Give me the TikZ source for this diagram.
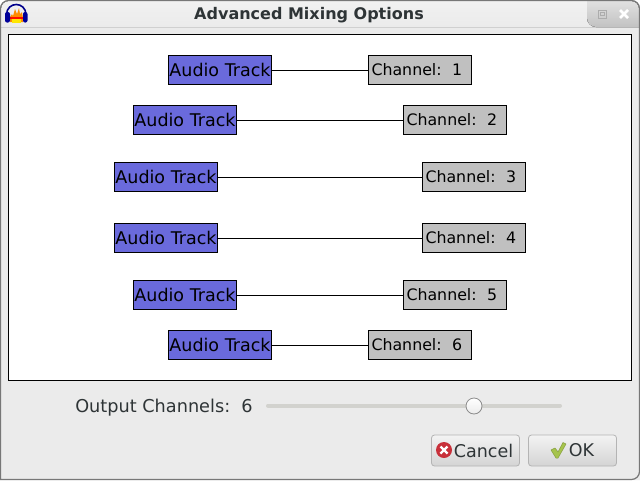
\documentclass[tikz,border=0pt]{standalone}
\usepackage{fontspec}
\setmainfont{DejaVu Sans}
\definecolor{TrackBlue}{HTML}{6A6ADC}
\definecolor{ChanGray}{HTML}{C0C0C0}
\definecolor{WinGray}{HTML}{EBEBEB}
\definecolor{EdgeGray}{HTML}{777777}
\definecolor{InkGray}{HTML}{2E3436}
\definecolor{BtnEdge}{HTML}{B4B4B4}
\definecolor{SlideGray}{HTML}{D2D2CE}
\definecolor{CancelRed}{HTML}{C8303A}
\definecolor{OkGreen}{HTML}{A6C44C}
\begin{document}
\begin{tikzpicture} [x = 1pt, y = -1pt,
	track/.style = {draw,
		fill = TrackBlue,
		line width = 1pt,
		minimum width = 103pt,
		minimum height = 29pt,
		inner sep = 0pt,
		font = \fontsize{17.5}{20}\selectfont},
	chan/.style = {draw,
		fill = ChanGray,
		line width = 1pt,
		text width = 97pt,
		minimum height = 29pt,
		inner xsep = 3pt,
		inner ysep = 0pt,
		align = left,
		font = \fontsize{15.8}{20}\selectfont},
	wire/.style = {line width = 1pt},
	button/.style = {draw = BtnEdge,
		rounded corners = 3pt,
		top color = WinGray!60!white,
		bottom color = WinGray!90!black,
		line width = 0.8pt,
		minimum height = 31pt,
		inner sep = 0pt,
		text = InkGray,
		font = \fontsize{17.5}{20}\selectfont},
	caption/.style = {text = InkGray,
		inner sep = 0pt,
		font = \fontsize{17.7}{20}\selectfont}]

	\useasboundingbox (0,0) rectangle (640,480);

	% window frame and title bar
	\fill [WinGray, rounded corners = 8pt] (0,480) -- (0,0) -- (640,0) -- (640,480);
	\fill [WinGray, rounded corners = 0pt] (0,20) rectangle (640,480);
	\fill [top color = WinGray!70!white, bottom color = WinGray, rounded corners = 8pt] (1,27) -- (1,1) -- (639,1) -- (639,27);
	\fill [top color = black!12, bottom color = black!24] (587,1) [rounded corners = 9pt] -- (587,27) [sharp corners] -- (639,27) [rounded corners = 8pt] -- (639,1) [sharp corners] -- cycle;
	\draw [EdgeGray, line width = 1.2pt, rounded corners = 8pt] (0.5,479.5) -- (0.5,0.5) -- (639.5,0.5) -- (639.5,479.5) [sharp corners] -- cycle;

	\node (title) at (309,15.5) [inner sep = 0pt, text = InkGray, font = \fontsize{16}{18}\selectfont\bfseries] {Advanced Mixing Options};

	% window buttons
	\draw [white!35!gray, line width = 1pt] (598.5,10.5) rectangle (606.5,18.5);
	\draw [white!35!gray, line width = 1pt] (600.5,12.5) rectangle (604.5,15.5);
	\draw [white, line width = 2.6pt] (620,10) -- (628,18) (628,10) -- (620,18);

	% audacity icon
	\fill [orange!90!yellow] (10,22) -- (10,17) -- (12,14) -- (13,16) -- (15,9) -- (17,14) -- (19,8) -- (20,14) -- (22,12) -- (23,18) -- (23,22) -- cycle;
	\fill [yellow!90!orange] (12,19) rectangle (21,23);
	\fill [red!90!orange] (10,17) rectangle (23,18.5);
	\draw [blue!55!black, line width = 1.6pt] (6.5,15) .. controls (6.5,1) and (26,1) .. (26,15);
	\fill [blue!60!black, rounded corners = 2pt] (5,12) rectangle (10,22.5);
	\fill [blue!60!black, rounded corners = 2pt] (23,12) rectangle (27.5,22.5);

	% mixing board
	\draw [fill = white, line width = 1pt] (8.5,34.5) rectangle (631.5,380.5);

	\node (T1) at (220,70) [track] {Audio Track};
	\node (T2) at (185,120) [track] {Audio Track};
	\node (T3) at (166,177) [track] {Audio Track};
	\node (T4) at (166,238) [track] {Audio Track};
	\node (T5) at (185,295) [track] {Audio Track};
	\node (T6) at (220,345) [track] {Audio Track};

	\node (C1) at (420,70) [chan] {Channel:\ \ 1};
	\node (C2) at (455,120) [chan] {Channel:\ \ 2};
	\node (C3) at (474,177) [chan] {Channel:\ \ 3};
	\node (C4) at (474,238) [chan] {Channel:\ \ 4};
	\node (C5) at (455,295) [chan] {Channel:\ \ 5};
	\node (C6) at (420,345) [chan] {Channel:\ \ 6};

	\draw [wire] (T1) -- (C1);
	\draw [wire] (T2) -- (C2);
	\draw [wire] (T3) -- (C3);
	\draw [wire] (T4) -- (C4);
	\draw [wire] (T5) -- (C5);
	\draw [wire] (T6) -- (C6);

	% slider row
	\node (output) at (164,408) [caption] {Output Channels:\ \ 6};
	\draw [SlideGray, line width = 4pt, line cap = round] (268,405.5) -- (560,405.5);
	\node (thumb) at (474,406) [circle, draw = black!45, top color = white, bottom color = WinGray, line width = 0.8pt, minimum size = 16pt, inner sep = 0pt] {};

	% dialog buttons
	\node (cancel) at (475.5,450.5) [button, minimum width = 88pt] {\hspace{16pt}Cancel};
	\node (ok) at (572.5,450.5) [button, minimum width = 88pt] {\hspace{18pt}OK\hspace{10pt}};
	\node (stop) at (444,450) [circle, fill = CancelRed, minimum size = 16pt, inner sep = 0pt] {};
	\draw [white, line width = 2.4pt] (440.5,446.5) -- (447.5,453.5) (447.5,446.5) -- (440.5,453.5);
	\fill [OkGreen, draw = OkGreen!80!black, line width = 0.5pt, line join = round] (551,450) -- (555,448) -- (558,452) -- (563,442.5) -- (566,444) -- (558,458) -- (556,458) -- cycle;

\end{tikzpicture}
\end{document}
